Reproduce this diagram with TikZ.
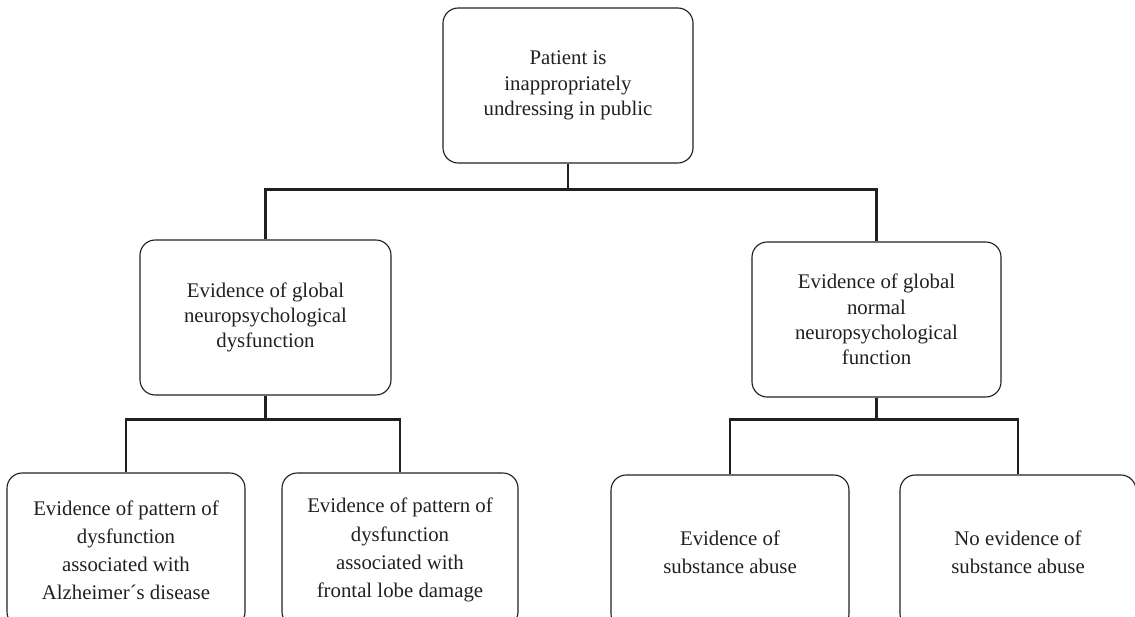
\documentclass[tikz,border=0pt]{standalone}
\usepackage{fontspec}
\setmainfont{Liberation Serif}
\usepackage{xcolor}
\definecolor{inkgray}{HTML}{231F20}

\begin{document}
\begin{tikzpicture}[
  box/.style={draw=inkgray, line width=0.8pt, rounded corners=0.38cm, align=center,
    text=inkgray, inner sep=0pt, font=\fontsize{14.8}{18}\selectfont},
  midbox/.style={box, minimum height=3.875cm},
  leafbox/.style={box, minimum height=3.85cm, font=\fontsize{14.8}{20}\selectfont},
  link/.style={draw=inkgray, line width=2pt}
]
  \useasboundingbox (0,0) rectangle (28.375,-15.425);
  \clip (0,0) rectangle (28.375,-15.425);

  % Root of the tree
  \node[box, minimum width=6.25cm, minimum height=3.875cm] (undress) at (14.2,-2.1375)
    {Patient is\\inappropriately\\undressing in public};

  % Second level
  \node[midbox, minimum width=6.275cm] (globdys) at (6.6375,-7.9375)
    {Evidence of global\\neuropsychological\\dysfunction};
  \node[midbox, minimum width=6.225cm] (globnorm) at (21.9125,-7.9875)
    {Evidence of global\\normal\\neuropsychological\\function};

  % Leaves (cut off at the bottom edge)
  \node[leafbox, minimum width=5.95cm] (alz) at (3.15,-13.75)
    {Evidence of pattern of\\dysfunction\\associated with\\Alzheimer´s disease};
  \node[leafbox, minimum width=5.9cm] (frontal) at (10.0,-13.75)
    {Evidence of pattern of\\dysfunction\\associated with\\frontal lobe damage};
  \node[leafbox, minimum width=5.95cm] (subst) at (18.25,-13.8)
    {Evidence of\\substance abuse};
  \node[leafbox, minimum width=5.9cm] (nosubst) at (25.45,-13.8)
    {No evidence of\\substance abuse};

  % Elbow connectors
  \draw[link] (undress.south) -- ++(0,-0.65) -| (globdys.north);
  \draw[link] (undress.south) -- ++(0,-0.65) -| (globnorm.north);
  \draw[link] (globdys.south) -- ++(0,-0.6) -| (alz.north);
  \draw[link] (globdys.south) -- ++(0,-0.6) -| (frontal.north);
  \draw[link] (globnorm.south) -- ++(0,-0.55) -| (subst.north);
  \draw[link] (globnorm.south) -- ++(0,-0.55) -| (nosubst.north);

\end{tikzpicture}
\end{document}
